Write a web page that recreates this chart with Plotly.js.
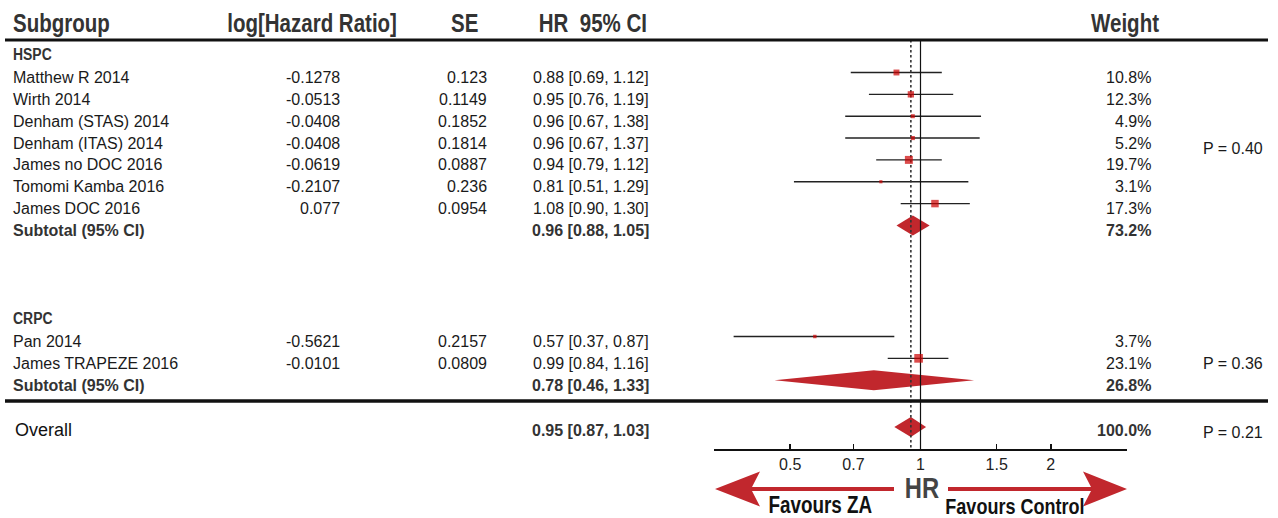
<!DOCTYPE html>
<html>
<head>
<meta charset="utf-8">
<script src="https://cdn.plot.ly/plotly-3.0.1.min.js"></script>
<style>html,body{margin:0;padding:0;background:#fff;}#chart{width:1278px;height:518px;}</style>
</head>
<body>
<div id="chart"></div>
<script>
// ---------------- data ----------------
const studies = ['Matthew R 2014','Wirth 2014','Denham (STAS) 2014','Denham (ITAS) 2014','James no DOC 2016','Tomomi Kamba 2016','James DOC 2016','Pan 2014','James TRAPEZE 2016'];
const studyGroup = [0,0,0,0,0,0,0,1,1];
const logHR = [-0.1278,-0.0513,-0.0408,-0.0408,-0.0619,-0.2107,0.077,-0.5621,-0.0101];
const se = [0.123,0.1149,0.1852,0.1814,0.0887,0.236,0.0954,0.2157,0.0809];
const hr = [0.88,0.95,0.96,0.96,0.94,0.81,1.08,0.57,0.99];
const ciLow = [0.69,0.76,0.67,0.67,0.79,0.51,0.90,0.37,0.84];
const ciHigh = [1.12,1.19,1.38,1.37,1.12,1.29,1.30,0.87,1.16];
const weights = [10.8,12.3,4.9,5.2,19.7,3.1,17.3,3.7,23.1];

const groups = ['HSPC','CRPC'];
const subHR = [0.96,0.78];
const subLow = [0.88,0.46];
const subHigh = [1.05,1.33];
const subWeight = [73.2,26.8];
const subP = ['P = 0.40','P = 0.36'];

const overallHR = 0.95, overallLow = 0.87, overallHigh = 1.03, overallWeight = 100.0, overallP = 'P = 0.21';

const tickVals = [0.5,0.7,1,1.5,2];
const tickText = ['0.5','0.7','1','1.5','2'];

// ---------------- layout helpers ----------------
const W = 1278, H = 518;
const px = v => v / W;
const REG = 'Liberation Sans, Arial, Helvetica, sans-serif';
const NARROW_SCALE = 0.82;
const step = 21.85, markOff = -5;
const groupHeaderY = [54, 318];
const groupFirstY = [77.5, 341.5];

const counters = [0,0];
const textY = studies.map((s,i) => { const g = studyGroup[i]; const y = groupFirstY[g] + counters[g]*step; counters[g]++; return y; });
const subTextY = groups.map((g,gi) => groupFirstY[gi] + counters[gi]*step);
const overallTextY = 430;
const markY = textY.map(y => y + markOff);
const subMarkY = subTextY.map(y => y + markOff);
const overallMarkY = overallTextY - 3;

const fmt2 = v => v.toFixed(2);
const ciStr = (e,l,h) => fmt2(e) + ' [' + fmt2(l) + ', ' + fmt2(h) + ']';

// ---------------- traces ----------------
const traces = [];
const ciX = [], ciY = [];
studies.forEach((s,i) => { ciX.push(ciLow[i], ciHigh[i], null); ciY.push(markY[i], markY[i], null); });
traces.push({x: ciX, y: ciY, mode: 'lines', line: {color: '#222', width: 1.4}, hoverinfo: 'skip'});

const dh = 10;
const diamonds = subHR.map((e,gi) => ({e: e, l: subLow[gi], h: subHigh[gi], y: subMarkY[gi]}));
diamonds.push({e: overallHR, l: overallLow, h: overallHigh, y: overallMarkY});
diamonds.forEach(d => {
  traces.push({x: [d.l, d.e, d.h, d.e, d.l], y: [d.y, d.y - dh, d.y, d.y + dh, d.y], mode: 'lines', fill: 'toself',
    fillcolor: '#c1272d', line: {width: 0, color: '#c1272d'}, hoverinfo: 'skip'});
});

traces.push({x: [1,1], y: [40,449], mode: 'lines', line: {color: '#111', width: 1.2}, hoverinfo: 'skip'});
traces.push({x: [overallHR, overallHR], y: [40,449], mode: 'lines', line: {color: '#333', width: 1.6, dash: '2.5px,2.5px'}, hoverinfo: 'skip'});

traces.push({x: hr, y: markY, mode: 'markers', marker: {symbol: 'square', color: '#cc0000', size: weights.map(w => 1.8*Math.sqrt(w)), line: {width: 0}}, hoverinfo: 'skip'});

// ---------------- annotations ----------------
const ann = [];
const narrowIdx = [];
function txt(x, y, text, anchor, font, narrow) {
  if (narrow) narrowIdx.push({i: ann.length, anchor: anchor});
  ann.push({xref: 'paper', yref: 'y', x: px(x), y: y, text: text, showarrow: false, xanchor: anchor, yanchor: 'middle',
    borderpad: 0, borderwidth: 0, font: font});
}
const hdrFont = {family: REG, size: 25, color: '#333', weight: 'bold'};
txt(13, 23, 'Subgroup', 'left', hdrFont, true);
txt(397, 23, 'log[Hazard Ratio]', 'right', hdrFont, true);
txt(478, 23, 'SE', 'right', hdrFont, true);
txt(647, 23, 'HR&nbsp;&nbsp;95% CI', 'right', hdrFont, true);
txt(1160, 23, 'Weight', 'right', hdrFont, true);

const body = {family: REG, size: 16, color: '#1a1a1a'};
const bodyBold = {family: REG, size: 16, color: '#333', weight: 'bold'};
const grpFont = {family: REG, size: 17, color: '#333', weight: 'bold'};

groups.forEach((g,gi) => txt(13, groupHeaderY[gi], g, 'left', grpFont, true));
studies.forEach((s,i) => {
  txt(13, textY[i], s, 'left', body);
  txt(340, textY[i], String(logHR[i]), 'right', body);
  txt(487, textY[i], String(se[i]), 'right', body);
  txt(649, textY[i], ciStr(hr[i], ciLow[i], ciHigh[i]), 'right', body);
  txt(1151, textY[i], weights[i].toFixed(1) + '%', 'right', body);
});
groups.forEach((g,gi) => {
  txt(13, subTextY[gi], 'Subtotal (95% CI)', 'left', bodyBold);
  txt(649, subTextY[gi], ciStr(subHR[gi], subLow[gi], subHigh[gi]), 'right', bodyBold);
  txt(1151, subTextY[gi], subWeight[gi].toFixed(1) + '%', 'right', bodyBold);
});
txt(1263, 148, subP[0], 'right', body);
txt(1263, 363, subP[1], 'right', body);

txt(15, overallTextY, 'Overall', 'left', {family: REG, size: 18, color: '#111'});
txt(649, overallTextY, ciStr(overallHR, overallLow, overallHigh), 'right', bodyBold);
txt(1151, overallTextY, overallWeight.toFixed(1) + '%', 'right', bodyBold);
txt(1263, 432, overallP, 'right', body);

txt(922, 488, 'HR', 'center', {family: REG, size: 29, color: '#444', weight: 'bold'}, true);
txt(821, 505, 'Favours ZA', 'center', {family: REG, size: 23, color: '#111', weight: 'bold'}, true);
txt(1015, 506, 'Favours Control', 'center', {family: REG, size: 22, color: '#111', weight: 'bold'}, true);

// ---------------- shapes ----------------
function poly(pts) { return 'M ' + pts.map(p => px(p[0]) + ',' + p[1]).join(' L ') + ' Z'; }
const arrowCol = '#c1272d';
const shapes = [
  {type: 'line', xref: 'paper', yref: 'y', x0: px(5), x1: px(1268), y0: 40, y1: 40, line: {color: '#111', width: 3}},
  {type: 'line', xref: 'paper', yref: 'y', x0: px(5), x1: px(1268), y0: 401, y1: 401, line: {color: '#111', width: 3.5}},
  {type: 'path', xref: 'paper', yref: 'y', path: poly([[715,489],[760,471.5],[752,487],[894,487],[894,491],[752,491],[760,506.5]]), fillcolor: arrowCol, line: {width: 0}},
  {type: 'path', xref: 'paper', yref: 'y', path: poly([[1127,489],[1083,471.5],[1091,487],[948,487],[948,491],[1091,491],[1083,506.5]]), fillcolor: arrowCol, line: {width: 0}}
];

const layout = {
  width: W, height: H,
  margin: {l: 0, r: 0, t: 0, b: 0, pad: 0},
  paper_bgcolor: '#fff', plot_bgcolor: '#fff',
  showlegend: false,
  xaxis: {type: 'log', range: [Math.log10(1/3), Math.log10(3)], domain: [px(714), px(1127)],
    anchor: 'free', position: 1 - 449 / H, showline: true, linecolor: '#111', linewidth: 1.5,
    ticks: 'inside', ticklen: 5, tickwidth: 1.5, tickcolor: '#111',
    tickvals: tickVals, ticktext: tickText, tickfont: {family: REG, size: 16, color: '#222'},
    showgrid: false, zeroline: false, fixedrange: true},
  yaxis: {range: [H, 0], domain: [0, 1], visible: false, fixedrange: true},
  annotations: ann,
  shapes: shapes
};

// condensed look for the bold header-style texts (horizontal squeeze around the anchor)
function condense() {
  narrowIdx.forEach(o => {
    const g = document.querySelector('#chart g.annotation[data-index="' + o.i + '"]');
    if (!g) return;
    const t = g.querySelector('text.annotation-text');
    if (!t) return;
    const bb = t.getBBox();
    const cx = o.anchor === 'left' ? bb.x : (o.anchor === 'right' ? bb.x + bb.width : bb.x + bb.width / 2);
    const prev = t.getAttribute('transform') || '';
    t.setAttribute('transform', prev + ' translate(' + cx + ',0) scale(' + NARROW_SCALE + ',1) translate(' + (-cx) + ',0)');
  });
}

Plotly.newPlot('chart', traces, layout, {staticPlot: true, displayModeBar: false}).then(condense);
</script>
</body>
</html>
